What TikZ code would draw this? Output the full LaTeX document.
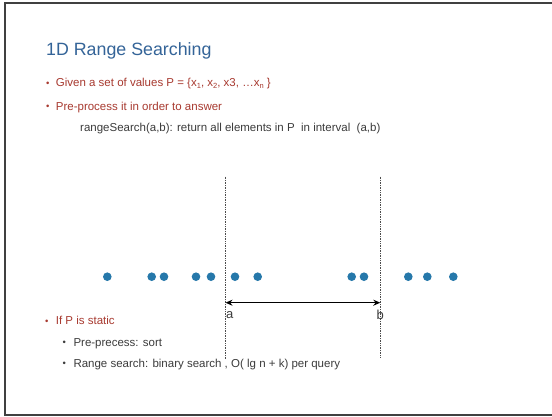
\documentclass[tikz,border=0pt]{standalone}
\usepackage{fontspec}
\setmainfont{Liberation Sans}
\usetikzlibrary{arrows.meta}
\definecolor{titleblue}{RGB}{52,100,152}
\definecolor{bulletred}{RGB}{168,58,48}
\definecolor{bodygray}{RGB}{60,60,60}
\definecolor{dotblue}{RGB}{38,120,170}
\newcommand\lowidx[1]{\raisebox{-0.3ex}{\fontsize{7.5}{8}\selectfont #1}}
\tikzset{
  frame/.style={line width=1.2pt, draw=black!75},
  titletext/.style={anchor=base west, inner sep=0pt, text=titleblue, font=\fontsize{17.8}{20}\selectfont},
  lvlone/.style={anchor=base west, inner sep=0pt, text=bulletred, font=\fontsize{11.5}{13}\selectfont},
  plain/.style={anchor=base west, inner sep=0pt, text=bodygray, font=\fontsize{11.5}{13}\selectfont},
  bulletmark/.style={anchor=base west, inner sep=0pt, font=\fontsize{9.5}{10}\selectfont},
  point/.style={circle, fill=dotblue, minimum size=8.6pt, inner sep=0pt},
  guide/.style={densely dotted, line width=0.7pt, black!70},
  span/.style={{Stealth[length=7pt,width=6pt]}-{Stealth[length=7pt,width=6pt]}, line width=1.3pt, black},
  endlabel/.style={inner sep=0pt, text=bodygray, font=\fontsize{13}{15}\selectfont}
}
\begin{document}
\begin{tikzpicture}[x=1pt,y=-1pt]
\useasboundingbox (0,0) rectangle (552,416);
\fill[white] (0,0) rectangle (552,416);
% slide frame (open on the right)
\draw[frame] (552,3) -- (5,3) -- (5,415) -- (552,415);

\node[titletext] (title) at (46,55) {1D Range Searching};

\node[bulletmark, text=bulletred] (b1) at (46,86.3) {•};
\node[lvlone] (t1) at (55.7,86.5) {Given a set of values P = \{x\lowidx{1}, x\lowidx{2}, x3, …x\lowidx{n} \}};
\node[bulletmark, text=bulletred] (b2) at (46,109.8) {•};
\node[lvlone] (t2) at (55.7,110) {Pre-process it in order to answer};
\node[plain] (t3) at (80,131) {rangeSearch(a,b): return all elements in P\ \ in interval\ \ (a,b)};

% query boundaries
\coordinate (atop) at (225.5,176.5);
\coordinate (abot) at (225.5,360);
\coordinate (btop) at (380.3,176.5);
\coordinate (bbot) at (380.3,358);
\draw[guide] (atop) -- (abot);
\draw[guide] (btop) -- (bbot);
\coordinate (aleft) at (225.5,302.7);
\coordinate (bright) at (380.3,302.7);
\draw[span] (aleft) -- (bright);
\node[endlabel, anchor=west] (la) at (226,315) {a};
\node[endlabel] (lb) at (380.3,315) {b};

% the point set
\foreach \x [count=\i] in {107.3,151.7,164,196,211,235,257.7,351.7,364,408.3,427.3,453.3}
  \node[point] (d\i) at (\x,276.7) {};

\node[bulletmark, text=bulletred] (b4) at (45,324.3) {•};
\node[lvlone] (t4) at (55.7,324.5) {If P is static};
\node[bulletmark, text=bodygray] (b5) at (62.5,345.8) {•};
\node[plain] (t5) at (73.3,346) {Pre-precess: sort};
\node[bulletmark, text=bodygray] (b6) at (62.5,366.8) {•};
\node[plain] (t6) at (73.3,367) {Range search: binary search , O( lg n + k) per query};
\end{tikzpicture}
\end{document}
